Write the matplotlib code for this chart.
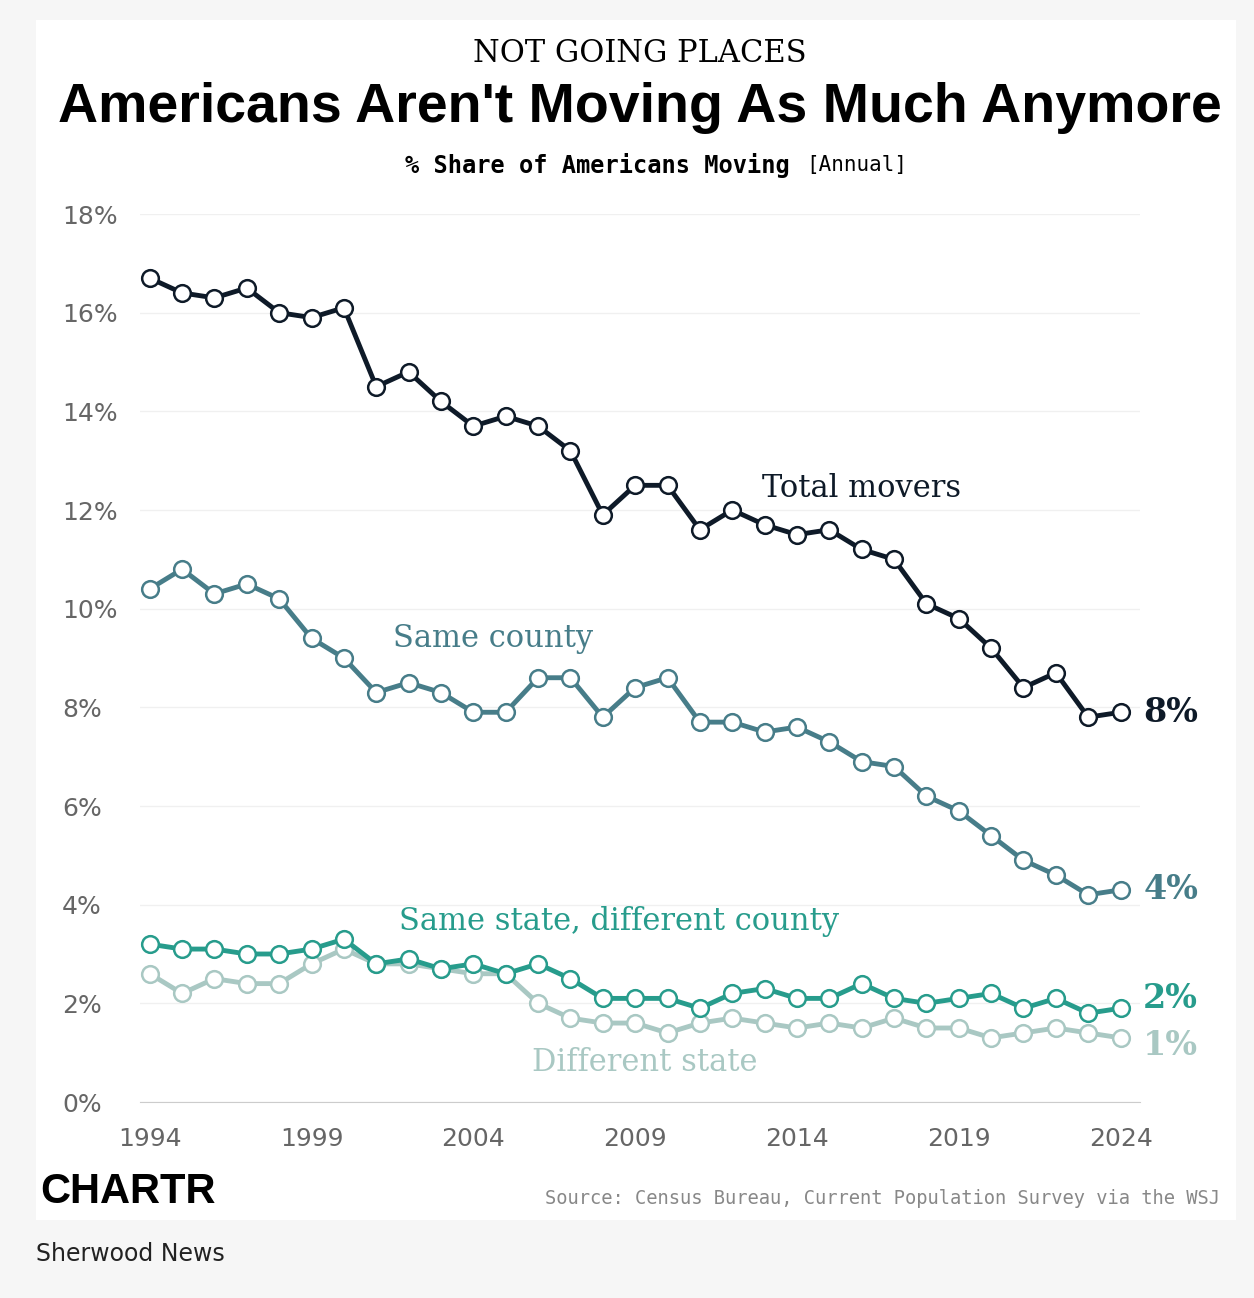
import numpy as np
import matplotlib.pyplot as plt

years = list(range(1994, 2025))
total_movers = [16.7, 16.4, 16.3, 16.5, 16.0, 15.9, 16.1, 14.5, 14.8, 14.2, 13.7, 13.9, 13.7, 13.2,
                11.9, 12.5, 12.5, 11.6, 12.0, 11.7, 11.5, 11.6, 11.2, 11.0, 10.1, 9.8, 9.2, 8.4, 8.7, 7.8, 7.9]
same_county = [10.4, 10.8, 10.3, 10.5, 10.2, 9.4, 9.0, 8.3, 8.5, 8.3, 7.9, 7.9, 8.6, 8.6, 7.8, 8.4,
               8.6, 7.7, 7.7, 7.5, 7.6, 7.3, 6.9, 6.8, 6.2, 5.9, 5.4, 4.9, 4.6, 4.2, 4.3]
same_state = [3.2, 3.1, 3.1, 3.0, 3.0, 3.1, 3.3, 2.8, 2.9, 2.7, 2.8, 2.6, 2.8, 2.5, 2.1, 2.1, 2.1,
              1.9, 2.2, 2.3, 2.1, 2.1, 2.4, 2.1, 2.0, 2.1, 2.2, 1.9, 2.1, 1.8, 1.9]
diff_state = [2.6, 2.2, 2.5, 2.4, 2.4, 2.8, 3.1, 2.8, 2.8, 2.7, 2.6, 2.6, 2.0, 1.7, 1.6, 1.6, 1.4,
              1.6, 1.7, 1.6, 1.5, 1.6, 1.5, 1.7, 1.5, 1.5, 1.3, 1.4, 1.5, 1.4, 1.3]

W, H = 1254, 1298
fig = plt.figure(figsize=(W / 100, H / 100), dpi=100)
fig.patch.set_facecolor('#f6f6f6')
# white card behind everything
fig.patches.append(plt.Rectangle((36 / W, 1 - 1220 / H), 1200 / W, 1200 / H,
                                 transform=fig.transFigure, facecolor='white', edgecolor='none', zorder=-10))

ax = fig.add_axes([140 / W, 1 - 1102 / H, 1000 / W, 888 / H])
ax.set_facecolor('none')
ax.set_xlim(1993.7, 2024.6)
ax.set_ylim(0, 18)

# data, colour, label, label position, end label, end label height
series = [
    (diff_state, '#a9c8c3', 'Different state', (2009.3, 0.8), '1%', 1.15),
    (same_state, '#279c8c', 'Same state, different county', (2008.5, 3.65), '2%', 2.1),
    (same_county, '#477d89', 'Same county', (2004.6, 9.4), '4%', 4.3),
    (total_movers, '#0e1a28', 'Total movers', (2016.0, 12.43), '8%', 7.9),
]
for vals, col, name, pos, end, end_y in series:
    ax.plot(years, vals, color=col, lw=3.5, marker='o', ms=12, mfc='white', mec=col, mew=1.8,
            clip_on=False, zorder=3)
    ax.text(pos[0], pos[1], name, color=col, fontsize=22, family='DejaVu Serif', ha='center', va='center')
    ax.text(2024.7, end_y, end, color=col, fontsize=24, family='DejaVu Serif', weight='bold',
            ha='left', va='center')

ax.set_yticks(range(0, 19, 2))
ax.set_yticklabels([f'{v}%' for v in range(0, 19, 2)])
ax.set_xticks([1994, 1999, 2004, 2009, 2014, 2019, 2024])
ax.tick_params(length=0, labelsize=18, labelcolor='#666666', pad=18)
for lbl in ax.get_yticklabels():
    lbl.set_horizontalalignment('left')
ax.yaxis.set_tick_params(pad=56)
ax.grid(axis='y', color='#f0f0f0', lw=1)
for s in ['top', 'right', 'left']:
    ax.spines[s].set_visible(False)
ax.spines['bottom'].set_color('#cccccc')

fig.text(0.51, 1 - 54 / H, 'NOT GOING PLACES', ha='center', va='center', fontsize=22, family='DejaVu Serif')
fig.text(0.51, 1 - 108 / H, "Americans Aren't Moving As Much Anymore", ha='center', va='center',
         fontsize=40, weight='heavy', family='Liberation Sans')
fig.text(790 / W, 1 - 165 / H, '% Share of Americans Moving', ha='right', va='center', fontsize=17,
         weight='bold', family='DejaVu Sans Mono')
fig.text(806 / W, 1 - 165 / H, '[Annual]', ha='left', va='center', fontsize=15, family='DejaVu Sans Mono')
fig.text(40 / W, 1 - 1192 / H, 'CHARTR', ha='left', va='center', fontsize=30, weight='heavy',
         family='Liberation Sans')
fig.text(1220 / W, 1 - 1199 / H, 'Source: Census Bureau, Current Population Survey via the WSJ',
         ha='right', va='center', fontsize=13.5, color='#888888', family='DejaVu Sans Mono')
fig.text(36 / W, 1 - 1254 / H, 'Sherwood News', ha='left', va='center', fontsize=17, color='#222222')

fig.savefig('out.png', dpi=100, facecolor=fig.get_facecolor())
